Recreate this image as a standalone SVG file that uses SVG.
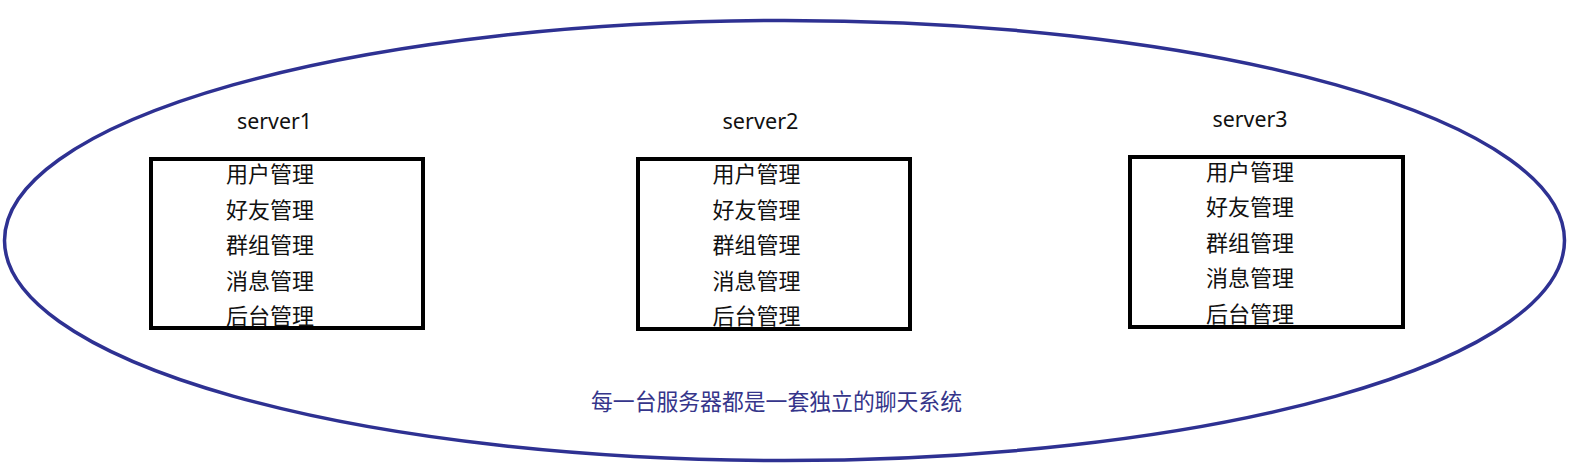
<svg xmlns="http://www.w3.org/2000/svg" width="1589" height="473" viewBox="0 0 1589 473">
<style>
.bg{fill:#ffffff}
.ring{fill:none;stroke:#2e3192;stroke-width:3.5}
.box{fill:none;stroke:#000000;stroke-width:4}
.title{font-family:"Noto Sans","Liberation Sans",sans-serif;font-size:21.5px;fill:#111111}
.item{font-family:"Noto Sans CJK SC","Noto Sans",sans-serif;font-size:22px;fill:#111111}
.note{font-family:"Noto Sans CJK SC","Noto Sans",sans-serif;font-size:23px;fill:#35358a}
</style>
<rect class="bg" x="0" y="0" width="1589" height="473"/>
<g id="system">
<ellipse class="ring" cx="784.5" cy="240.5" rx="780" ry="220"/>
<text class="note" x="591" y="410" textLength="371" lengthAdjust="spacingAndGlyphs">每一台服务器都是一套独立的聊天系统</text>
</g>
<g id="server1">
<text class="title" x="237" y="129" textLength="75" lengthAdjust="spacingAndGlyphs">server1</text>
<text class="item" x="226" y="182">用户管理</text>
<text class="item" x="226" y="217.6">好友管理</text>
<text class="item" x="226" y="253.2">群组管理</text>
<text class="item" x="226" y="288.8">消息管理</text>
<text class="item" x="226" y="324.4">后台管理</text>
<rect class="box" x="151" y="159" width="272" height="169"/>
</g>
<g id="server2">
<text class="title" x="722.5" y="129" textLength="76" lengthAdjust="spacingAndGlyphs">server2</text>
<text class="item" x="712.5" y="182">用户管理</text>
<text class="item" x="712.5" y="217.6">好友管理</text>
<text class="item" x="712.5" y="253.2">群组管理</text>
<text class="item" x="712.5" y="288.8">消息管理</text>
<text class="item" x="712.5" y="324.4">后台管理</text>
<rect class="box" x="638" y="159" width="272" height="170"/>
</g>
<g id="server3">
<text class="title" x="1212.5" y="127" textLength="75" lengthAdjust="spacingAndGlyphs">server3</text>
<text class="item" x="1206" y="179.5">用户管理</text>
<text class="item" x="1206" y="215.1">好友管理</text>
<text class="item" x="1206" y="250.7">群组管理</text>
<text class="item" x="1206" y="286.3">消息管理</text>
<text class="item" x="1206" y="321.9">后台管理</text>
<rect class="box" x="1130" y="157" width="273" height="170"/>
</g>
<g id="connectors"/>
</svg>
